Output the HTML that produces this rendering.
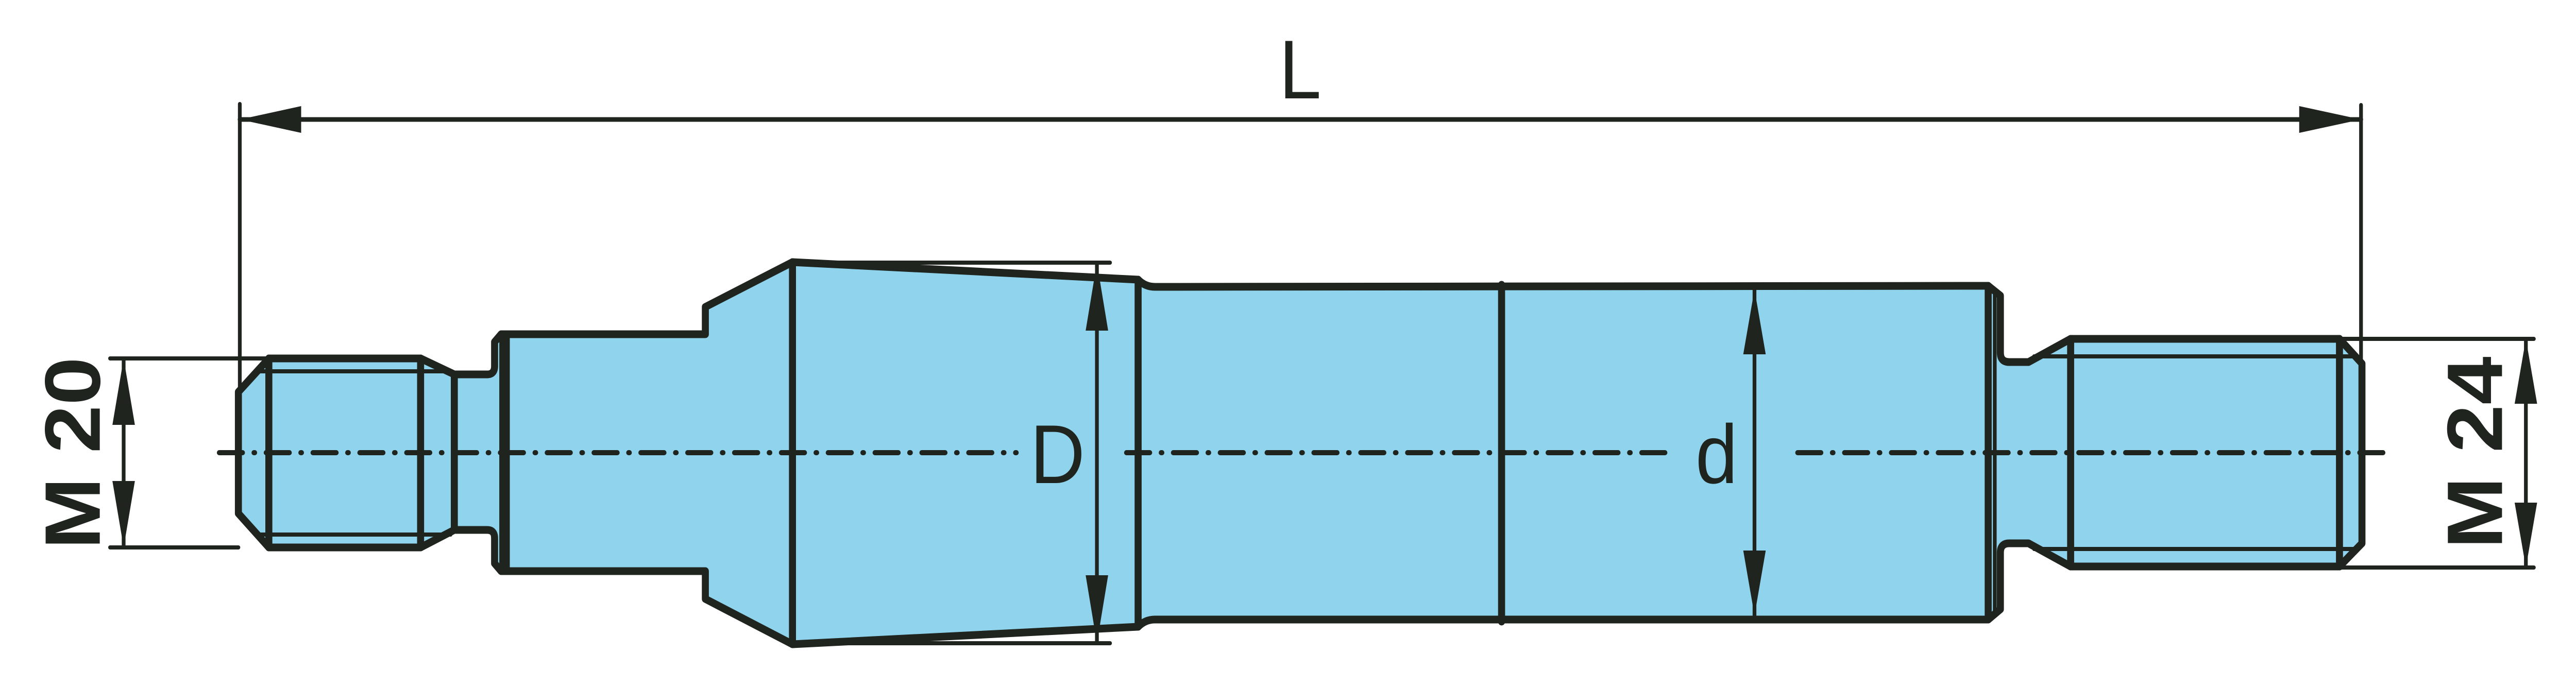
<!DOCTYPE html>
<html><head><meta charset="utf-8"><style>html,body{margin:0;padding:0;background:#fff;width:100%;height:100%;overflow:hidden}svg{display:block;width:100vw;height:100vh}</style></head>
<body>
<svg viewBox="0 0 5500 1334" preserveAspectRatio="none" xmlns="http://www.w3.org/2000/svg">
<g stroke="#1f241f" fill="none" stroke-linejoin="round" stroke-linecap="round">
<path d="M509,761 L574,696 L898,696 L970,727 L1040,727 Q1056,727 1056,711 L1056,664 L1070,649 L1506,649 L1506,596 L1692,509 L2430,543 Q2445,557 2466,557 L4245,555 L4271,574 L4271,685 Q4271,703 4290,703 L4331,703 L4421,658 L4995,658 L5043,706 L5043,1055 L4995,1100 L4421,1100 L4331,1055 L4290,1055 Q4271,1055 4271,1073 L4271,1183 L4245,1203 L2466,1203 Q2445,1203 2430,1217 L1692,1251 L1506,1163 L1506,1109 L1070,1109 L1056,1094 L1056,1045 Q1056,1029 1040,1029 L970,1029 L898,1063 L574,1063 L509,997 Z" fill="#8fd4ec" stroke-width="15"/>
<g stroke-width="15">
<line x1="574" y1="696" x2="574" y2="1063"/>
<line x1="898" y1="696" x2="898" y2="1063"/>
<line x1="970" y1="727" x2="970" y2="1029"/>
<line x1="1081" y1="649" x2="1081" y2="1109"/>
<line x1="1692" y1="509" x2="1692" y2="1251"/>
<line x1="2430" y1="543" x2="2430" y2="1217"/>
<line x1="3206" y1="553" x2="3206" y2="1207"/>
<line x1="4245" y1="555" x2="4245" y2="1203"/>
<line x1="4421" y1="658" x2="4421" y2="1100"/>
<line x1="4995" y1="658" x2="4995" y2="1100"/>
</g>
<g stroke-width="8">
<line x1="1070" y1="655" x2="1070" y2="1103"/>
<line x1="4259" y1="562" x2="4259" y2="1196"/>
<line x1="557" y1="721" x2="962" y2="721"/>
<line x1="557" y1="1038" x2="962" y2="1038"/>
<line x1="4343" y1="692" x2="5032" y2="692"/>
<line x1="4343" y1="1066" x2="5032" y2="1066"/>
<line x1="512" y1="202" x2="512" y2="761"/>
<line x1="5041" y1="204" x2="5041" y2="706"/>
<line x1="512" y1="232" x2="5041" y2="232" stroke-width="9"/>
<line x1="1692" y1="510" x2="2370" y2="510"/>
<line x1="1692" y1="1249" x2="2370" y2="1249"/>
<line x1="2342" y1="510" x2="2342" y2="1249"/>
<line x1="235" y1="696" x2="574" y2="696"/>
<line x1="235" y1="1063" x2="509" y2="1063"/>
<line x1="264" y1="696" x2="264" y2="1063"/>
<line x1="4995" y1="658" x2="5410" y2="658"/>
<line x1="4995" y1="1102" x2="5410" y2="1102"/>
<line x1="5393" y1="658" x2="5393" y2="1102"/>
<line x1="3746" y1="562" x2="3746" y2="1195"/>
</g>
<g stroke-width="10" stroke-dasharray="50 24 2 24">
<line x1="468" y1="879" x2="2170" y2="879"/>
<line x1="2405" y1="879" x2="3557" y2="879"/>
<line x1="3838" y1="879" x2="5100" y2="879"/>
</g>
</g>
<g fill="#1f241f">
<polygon points="512,232 643,206 643,258"/>
<polygon points="5041,232 4909,206 4909,258"/>
<polygon points="2342,510 2318,642 2366,642"/>
<polygon points="2342,1249 2318,1117 2366,1117"/>
<polygon points="264,696 240,825 288,825"/>
<polygon points="264,1063 240,934 288,934"/>
<polygon points="5393,658 5369,784 5417,784"/>
<polygon points="5393,1102 5369,976 5417,976"/>
<polygon points="3746,562 3722,688 3770,688"/>
<polygon points="3746,1195 3722,1069 3770,1069"/>
</g>
<g font-family="Liberation Sans, Arial, sans-serif" fill="#1f241f">
<text x="2776" y="191" font-size="162" text-anchor="middle">L</text>
<text x="2258" y="938" font-size="162" text-anchor="middle">D</text>
<text x="3665" y="938" font-size="162" text-anchor="middle">d</text>
<text transform="translate(153,880) rotate(-90)" y="60" font-size="168" font-weight="bold" text-anchor="middle">M 20</text>
<text transform="translate(5282,879) rotate(-90)" y="60" font-size="168" font-weight="bold" text-anchor="middle">M 24</text>
</g>
</svg>
</body></html>
